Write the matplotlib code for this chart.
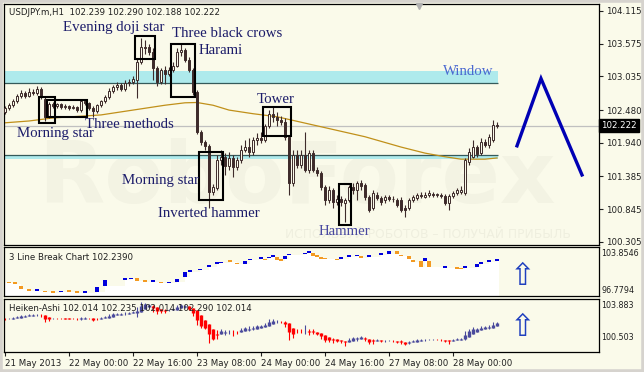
import matplotlib
matplotlib.use('Agg')
import matplotlib.pyplot as plt
from matplotlib.patches import Rectangle
import numpy as np

# ---------------- data ----------------
opens = [102.45,102.51,102.56,102.63,102.71,102.76,102.71,102.78,102.76,102.83,
         102.66,102.38,102.58,102.55,102.58,102.53,102.55,102.51,102.53,102.48,
         102.63,102.60,102.51,102.46,102.56,102.63,102.70,102.80,102.86,102.89,
         102.83,102.93,102.94,102.98,103.27,103.52,103.52,103.44,103.17,102.94,
         103.14,103.08,103.14,103.21,103.44,103.47,103.31,103.14,102.78,102.12,
         101.95,101.89,101.13,101.19,101.66,101.71,101.56,101.69,101.54,101.66,
         101.82,101.87,101.79,101.99,102.02,101.99,102.22,102.41,102.37,102.32,
         102.28,102.04,101.28,101.74,101.57,101.74,101.49,101.77,101.49,101.44,
         101.21,101.00,101.16,100.96,101.01,100.95,101.00,101.21,101.16,101.28,
         101.24,101.05,100.86,101.08,101.03,101.00,101.05,101.01,101.00,101.00,
         100.86,100.86,101.00,101.03,101.08,101.05,101.08,101.10,101.08,101.08,
         101.06,100.95,101.06,101.11,101.13,101.11,101.62,101.71,101.87,101.77,
         101.95,101.90,101.99,102.239]
highs = [102.55,102.60,102.66,102.75,102.81,102.80,102.84,102.83,102.88,102.86,
         102.70,102.61,102.61,102.60,102.60,102.58,102.56,102.56,102.55,102.65,
         102.66,102.61,102.55,102.58,102.65,102.73,102.84,102.89,102.94,102.93,
         102.98,103.00,103.04,103.34,103.67,103.64,103.57,103.50,103.21,103.17,
         103.21,103.19,103.27,103.50,103.57,103.50,103.36,103.17,102.81,102.15,
         101.99,101.92,101.26,101.74,101.82,101.77,101.79,101.74,101.71,101.90,
         101.99,102.02,102.04,102.10,102.12,102.25,102.48,102.53,102.45,102.38,
         102.35,102.07,101.82,101.82,101.82,102.12,101.82,101.82,101.54,101.47,
         101.24,101.23,101.19,101.08,101.06,101.03,101.24,101.28,101.31,101.33,
         101.28,101.08,101.16,101.13,101.06,101.08,101.08,101.06,101.03,101.05,
         100.91,101.03,101.08,101.11,101.13,101.13,101.16,101.13,101.11,101.11,
         101.10,101.10,101.14,101.19,101.23,101.69,101.85,101.99,101.90,102.02,
         102.00,102.09,102.32,102.290]
lows = [102.41,102.48,102.53,102.60,102.68,102.68,102.70,102.73,102.73,102.66,
        102.30,102.35,102.51,102.51,102.50,102.50,102.48,102.50,102.45,102.45,
        102.56,102.48,102.37,102.43,102.53,102.60,102.66,102.76,102.81,102.80,
        102.80,102.88,102.91,102.68,103.24,103.41,103.39,102.98,102.88,102.91,
        102.91,103.04,103.11,103.19,103.37,103.27,103.11,102.73,102.09,101.90,
        101.82,100.86,101.08,101.16,101.57,101.41,101.49,101.38,101.49,101.61,
        101.79,101.71,101.74,101.90,101.94,101.95,102.18,102.28,102.22,102.23,
        101.99,101.08,101.23,101.52,101.52,101.46,101.44,101.46,101.39,101.16,
        100.91,100.95,100.86,100.91,100.90,100.63,100.96,101.10,101.00,101.16,
        101.00,100.80,100.83,101.00,100.91,100.95,100.98,100.96,100.88,100.80,
        100.72,100.83,100.96,101.00,101.03,101.03,101.05,101.05,101.05,101.03,
        100.91,100.83,101.03,101.08,101.10,101.08,101.57,101.69,101.71,101.74,
        101.87,101.85,101.95,102.188]
closes = [102.51,102.56,102.63,102.71,102.76,102.71,102.78,102.76,102.83,102.70,
          102.37,102.58,102.55,102.58,102.53,102.55,102.51,102.53,102.48,102.63,
          102.60,102.51,102.46,102.56,102.63,102.70,102.80,102.86,102.89,102.83,
          102.93,102.94,103.00,103.27,103.52,103.51,103.44,103.17,102.94,103.14,
          103.08,103.14,103.21,103.44,103.47,103.31,103.14,102.78,102.12,101.95,
          101.89,101.13,101.21,101.66,101.71,101.56,101.69,101.54,101.66,101.82,
          101.87,101.79,101.99,102.02,101.99,102.22,102.41,102.37,102.32,102.28,
          102.04,101.28,101.74,101.57,101.74,101.49,101.77,101.49,101.44,101.21,
          101.00,101.16,100.96,101.01,100.96,101.00,101.21,101.16,101.28,101.23,
          101.05,100.83,101.11,101.03,100.96,101.05,101.01,101.02,100.91,100.83,
          100.83,101.00,101.05,101.08,101.07,101.08,101.11,101.08,101.09,101.06,
          100.95,101.06,101.11,101.16,101.16,101.66,101.79,101.87,101.76,101.95,
          101.90,102.04,102.23,102.222]

ma_idx = [0, 6, 12, 24, 32, 40, 45, 48, 52, 56, 62, 68, 76, 84, 90, 99, 105, 110, 114, 120, 123]
ma_val = [102.27,102.30,102.35,102.40,102.48,102.56,102.60,102.605,102.56,102.48,102.42,
          102.37,102.25,102.13,102.04,101.87,101.77,101.71,101.67,101.67,101.69]

# three line break indicator (bar index, top, bottom, up?)
lb_idx = [1,2.5,4,6,8,10,12,14,16,18,20,23,25,30,31.5,33,35,37,39,41,43,45,46.25,48.75,51,53,54,
          56.25,58,60,61.25,64,65,66,67,68,69,70,71,75,76,77,78,79,80,83,84,86,88,89,91,94,96,98,
          99,101,102,104,105,106,110,113,114,115,118,119,121,123]
lb_hi = [98.87,98.73,98.22,97.72,97.79,97.50,97.43,97.57,97.65,97.43,97.43,98.08,99.09,99.31,99.45,
         99.38,99.02,99.09,98.87,98.87,99.23,100.25,100.53,100.75,101.26,101.62,101.76,101.91,101.54,
         101.83,102.19,102.34,102.19,102.48,102.63,102.41,102.05,102.56,102.84,103.06,103.21,102.99,
         102.63,102.41,102.27,102.19,102.41,102.63,102.77,102.56,102.70,102.92,103.28,103.28,102.77,
         102.56,101.91,101.83,102.27,101.83,101.04,100.97,100.89,101.04,101.40,101.69,101.91,102.12]
lb_lo = [98.66,98.51,97.79,97.50,97.50,97.29,97.21,97.36,97.36,97.21,97.21,97.36,98.22,99.09,99.23,
         98.95,98.80,98.80,98.66,98.66,98.80,99.52,100.25,100.53,100.97,101.40,101.54,101.69,101.33,
         101.40,101.98,102.12,101.98,102.27,102.41,101.98,101.83,102.12,102.63,102.84,102.99,102.56,
         102.41,102.19,102.05,101.98,102.12,102.41,102.56,102.27,102.41,102.70,102.84,102.84,102.56,
         102.12,101.69,100.97,101.83,100.97,100.82,100.75,100.68,100.82,100.97,101.40,101.69,101.83]
lb_up = [0,0,0,0,1,0,0,1,0,0,1,1,1,1,1,0,0,1,0,1,1,1,1,1,1,1,1,0,0,1,1,1,0,1,1,0,0,1,1,1,1,0,
         0,0,0,0,1,1,1,0,1,1,1,0,0,0,0,0,1,0,1,0,0,1,1,1,1,1]

main_ticks = [104.115, 103.575, 103.035, 102.480, 101.940, 101.385, 100.845, 100.305]
date_idx = [0, 16, 32, 48, 64, 80, 96, 112]
date_labels = ['21 May 2013', '22 May 00:00', '22 May 16:00', '23 May 08:00',
               '24 May 00:00', '24 May 16:00', '27 May 08:00', '28 May 00:00']
last_price = 102.222

window_band = (102.927, 103.125)
support_band = (101.67, 101.74)

# pattern boxes: (x0, x1, low, high) in bar index / price
box_x0 = [9.0, 11.0, 33.0, 42.0, 49.0, 65.0, 84.0]
box_x1 = [12.0, 20.0, 37.0, 47.0, 54.0, 71.0, 86.0]
box_lo = [102.27, 102.37, 103.32, 102.70, 101.00, 102.05, 100.58]
box_hi = [102.70, 102.65, 103.70, 103.57, 101.79, 102.53, 101.26]

labels = ['Evening doji star', 'Three black crows', 'Harami', 'Tower', 'Three methods',
          'Morning star', 'Morning star', 'Inverted hammer', 'Hammer', 'Window']
label_x = [14.5, 41.75, 48.5, 63.0, 20.0, 3.0, 29.25, 38.25, 78.5, 109.5]
label_y = [103.85, 103.74, 103.455, 102.66, 102.25, 102.10, 101.31, 100.78, 100.48, 103.11]

forecast_x = [128.0, 134.0, 144.25]
forecast_y = [101.89, 103.00, 101.41]

# ---------------- style ----------------
W, H = 644, 372
BG = '#fafaea'
CANDLE = '#3e2b2b'
TXT = '#1c1c6a'
small = dict(family='DejaVu Sans', fontsize=6.2, color='#202020')
small2 = dict(family='DejaVu Sans', fontsize=5.8, color='#202020')

fig = plt.figure(figsize=(W / 100, H / 100), dpi=100)
fig.patch.set_facecolor(BG)

def add_ax(x0, y0, x1, y1):
    return fig.add_axes([x0 / W, 1 - y1 / H, (x1 - x0) / W, (y1 - y0) / H])

ax1 = add_ax(4, 4, 599, 245)
ax2 = add_ax(4, 247, 599, 296)
ax3 = add_ax(4, 299, 599, 352)

XL = (-0.25, 148.5)
for ax in (ax1, ax2, ax3):
    ax.set_facecolor(BG)
    ax.set_xlim(*XL)
    for s in ax.spines.values():
        s.set_color('black')
        s.set_linewidth(0.9)
    ax.tick_params(left=False, labelleft=False, bottom=False, labelbottom=False)

# ---- main panel ----
ax1.set_ylim(100.254, 104.23)
ax1.text(0.057, 0.27, 'RoboForex', transform=ax1.transAxes, fontsize=62, fontweight='bold',
         color='#f3f3e3', ha='left', va='center', family='DejaVu Sans', zorder=0)
ax1.text(0.472, 0.045, 'ИСПОЛЬЗУЙ РОБОТОВ – ПОЛУЧАЙ ПРИБЫЛЬ', transform=ax1.transAxes,
         fontsize=8.8, color='#efefdf', ha='left', va='center', family='DejaVu Sans', zorder=0)

n = len(closes)
xs = np.arange(n)
xend = (123.3 - XL[0]) / (XL[1] - XL[0])
ax1.axhspan(window_band[0], window_band[1], xmin=0, xmax=xend, color='#aeeaec', lw=0, zorder=1)
ax1.axhspan(support_band[0], support_band[1], xmin=0, xmax=xend, color='#aeeaec', lw=0, zorder=1)
ax1.hlines([window_band[0], support_band[1]], XL[0], 123.3, color='#355a5a', lw=0.9, zorder=2)
ax1.axhline(last_price, color='#c0c0c0', lw=0.9, zorder=1)
ax1.plot(ma_idx, ma_val, color='#c0901a', lw=0.9, zorder=2)

for i in range(n):
    o, h, l, c = opens[i], highs[i], lows[i], closes[i]
    ax1.vlines(i, l, h, color=CANDLE, lw=0.8, zorder=3)
    lo, hi = min(o, c), max(o, c)
    fc = CANDLE if c < o else BG
    ax1.add_patch(Rectangle((i - 0.28, lo), 0.56, max(hi - lo, 0.004), facecolor=fc,
                            edgecolor=CANDLE, lw=0.7, zorder=4))

for x0, x1, lo, hi in zip(box_x0, box_x1, box_lo, box_hi):
    ax1.add_patch(Rectangle((x0 - 0.6, lo), x1 - x0 + 1.2, hi - lo, fill=False,
                            edgecolor='black', lw=1.5, zorder=5))

for t, x, y in zip(labels, label_x, label_y):
    col = TXT
    if t == 'Window':
        col = '#4a68d0'
    elif t == 'Hammer':
        col = '#4848a0'
    ax1.text(x, y, t, fontsize=10.7, family='Liberation Serif', color=col, ha='left',
             va='center', zorder=6)

ax1.plot(forecast_x, forecast_y, color='#0000b4', lw=2.4, zorder=6, solid_joinstyle='miter')
ax1.plot([103.5], [104.20], marker='v', color='#b0b0b0', ms=5, zorder=6, clip_on=False)

ax1.yaxis.tick_right()
ax1.set_yticks(main_ticks)
ax1.set_yticklabels([f'{v:.3f}' for v in main_ticks])
ax1.tick_params(axis='y', right=True, labelright=True, length=3, width=0.8, pad=2,
                labelsize=6.2, colors='#202020', direction='out')
ax1.text(1.003, (last_price - 100.254) / (104.23 - 100.254), f'{last_price:.3f}',
         transform=ax1.transAxes, ha='left', va='center', color='white', fontsize=6.2,
         family='DejaVu Sans', zorder=10,
         bbox=dict(boxstyle='square,pad=0.25', facecolor='black', edgecolor='black'))
ax1.text(5 / 595, 0.963, 'USDJPY.m,H1  102.239 102.290 102.188 102.222', transform=ax1.transAxes,
         ha='left', va='center', **small)

# ---- 3 line break panel ----
ax2.set_ylim(96.7794, 103.8546)
step_x = [XL[0]] + list(lb_idx) + [123.5]
step_y = [lb_lo[0]] + list(lb_lo) + [lb_lo[-1]]
ax2.fill_between(step_x, 96.7794, step_y, step='post', color='white', lw=0, zorder=1)
for x, hi, lo, up in zip(lb_idx, lb_hi, lb_lo, lb_up):
    ax2.add_patch(Rectangle((x - 0.45, lo), 0.9, hi - lo, facecolor='#0000dd' if up else '#f39a22',
                            edgecolor='none', zorder=3))
ax2.text(5 / 595, 0.79, '3 Line Break Chart 102.2390', transform=ax2.transAxes,
         ha='left', va='center', **small)
ax2.text(1.004, 0.86, '103.8546', transform=ax2.transAxes, ha='left', va='center', **small2)
ax2.text(1.004, 0.12, '96.7794', transform=ax2.transAxes, ha='left', va='center', **small2)
ax2.text(129.5, 99.6, '⇧', fontsize=22, color='#1f3fbf', ha='center', va='center',
         family='DejaVu Sans', zorder=5)

# ---- Heiken Ashi panel ----
ax3.set_ylim(100.25, 103.883)
o = np.array(opens); h = np.array(highs); l = np.array(lows); c = np.array(closes)
ha_c = (o + h + l + c) / 4
ha_o = np.zeros(n)
ha_o[0] = (o[0] + c[0]) / 2
for i in range(1, n):
    ha_o[i] = (ha_o[i - 1] + ha_c[i - 1]) / 2
ha_h = np.maximum(h, np.maximum(ha_o, ha_c))
ha_l = np.minimum(l, np.minimum(ha_o, ha_c))
cols = np.where(ha_c >= ha_o, '#4a4a9c', '#ff0000')
ax3.vlines(xs, ha_l, ha_h, colors=cols, lw=0.8, zorder=3)
ax3.vlines(xs, np.minimum(ha_o, ha_c), np.maximum(ha_o, ha_c), colors=cols, lw=2.4, zorder=4)
ax3.text(5 / 595, 0.83, 'Heiken-Ashi 102.014 102.235 102.014 102.290 102.014',
         transform=ax3.transAxes, ha='left', va='center', zorder=6, **small)
ax3.text(1.004, 0.87, '103.883', transform=ax3.transAxes, ha='left', va='center', **small2)
ax3.text(1.004, 0.28, '100.503', transform=ax3.transAxes, ha='left', va='center', **small2)
ax3.text(129.5, 101.95, '⇧', fontsize=22, color='#1f3fbf', ha='center', va='center',
         family='DejaVu Sans', zorder=5)

ax3.set_xticks(date_idx)
ax3.set_xticklabels(date_labels, ha='left')
ax3.tick_params(axis='x', bottom=True, labelbottom=True, length=3, width=0.8, pad=2,
                labelsize=6.2, colors='#202020')

# window frame
fig.patches.append(Rectangle((0, 0), 1, 1, transform=fig.transFigure, fill=False,
                             edgecolor='#d6d3ce', lw=4, zorder=20))

fig.savefig('out.png', dpi=100, facecolor=fig.get_facecolor())
